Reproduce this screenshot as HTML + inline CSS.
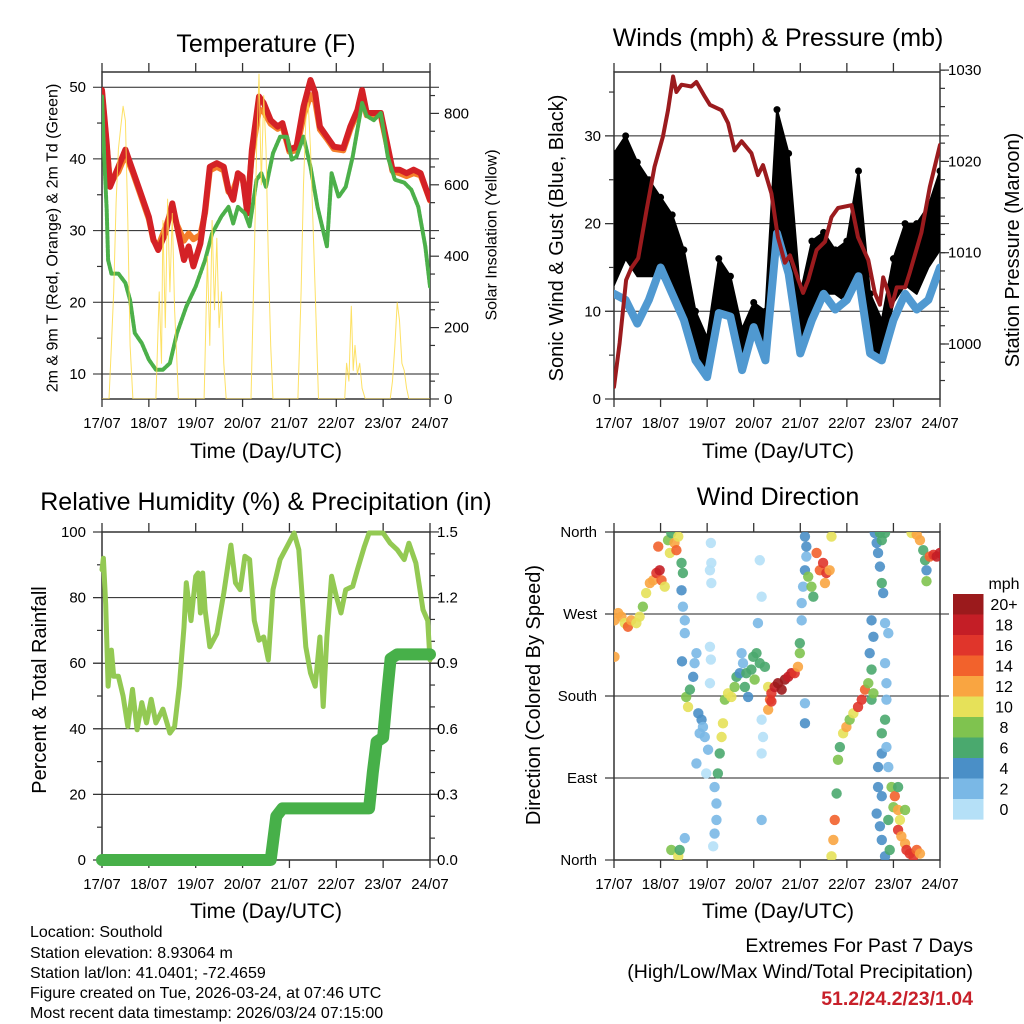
<!DOCTYPE html>
<html><head><meta charset="utf-8"><style>
html,body{margin:0;padding:0;background:#fff;}
svg{display:block;font-family:"Liberation Sans",Arial,sans-serif;}
</style></head><body>
<svg id="fig" width="1024" height="1024" viewBox="0 0 1024 1024" xmlns="http://www.w3.org/2000/svg">
<rect x="0" y="0" width="1024" height="1024" fill="#fff"/>
<g id="layer"></g>
<text x="266" y="52" font-size="25" text-anchor="middle">Temperature (F)</text>
<text x="778" y="46" font-size="25" text-anchor="middle">Winds (mph) &amp; Pressure (mb)</text>
<text x="266" y="510" font-size="25" text-anchor="middle">Relative Humidity (%) &amp; Precipitation (in)</text>
<text x="778" y="505" font-size="25" text-anchor="middle">Wind Direction</text>
<text x="266" y="458" font-size="21" text-anchor="middle">Time (Day/UTC)</text>
<text x="778" y="458" font-size="21" text-anchor="middle">Time (Day/UTC)</text>
<text x="266" y="918" font-size="21" text-anchor="middle">Time (Day/UTC)</text>
<text x="778" y="918" font-size="21" text-anchor="middle">Time (Day/UTC)</text>
<text transform="translate(53,238) rotate(-90)" font-size="16" text-anchor="middle" dominant-baseline="central">2m &amp; 9m T (Red, Orange) &amp; 2m Td (Green)</text>
<text transform="translate(492,235) rotate(-90)" font-size="16" text-anchor="middle" dominant-baseline="central">Solar Insolation (Yellow)</text>
<text transform="translate(557,238) rotate(-90)" font-size="20" text-anchor="middle" dominant-baseline="central">Sonic Wind &amp; Gust (Blue, Black)</text>
<text transform="translate(1013,250) rotate(-90)" font-size="20" text-anchor="middle" dominant-baseline="central">Station Pressure (Maroon)</text>
<text transform="translate(40,690) rotate(-90)" font-size="20" text-anchor="middle" dominant-baseline="central">Percent &amp; Total Rainfall</text>
<text transform="translate(534,695) rotate(-90)" font-size="20" text-anchor="middle" dominant-baseline="central">Direction (Colored By Speed)</text>
<g font-size="16">
<text x="30" y="937">Location: Southold</text>
<text x="30" y="958">Station elevation: 8.93064 m</text>
<text x="30" y="978">Station lat/lon: 41.0401; -72.4659</text>
<text x="30" y="998">Figure created on Tue, 2026-03-24, at 07:46 UTC</text>
<text x="30" y="1018">Most recent data timestamp: 2026/03/24 07:15:00</text>
</g>
<g font-size="19.5" text-anchor="end">
<text x="973" y="952">Extremes For Past 7 Days</text>
<text x="973" y="978">(High/Low/Max Wind/Total Precipitation)</text>
<text x="973" y="1005" fill="#c8202a" font-weight="bold">51.2/24.2/23/1.04</text>
</g>
<text x="1004" y="589" font-size="16" text-anchor="middle">mph</text>
</svg>
<script>
const dayLabels = ['17/07','18/07','19/07','20/07','21/07','22/07','23/07','24/07'];
// Temperature (F)
const tTimes = [0,0.1,0.17,0.35,0.5,0.65,0.8,1.0,1.1,1.2,1.35,1.5,1.6,1.75,1.85,1.95,2.1,2.2,2.3,2.45,2.6,2.7,2.8,2.9,3.0,3.1,3.2,3.35,3.45,3.6,3.75,3.85,4.0,4.15,4.3,4.45,4.55,4.65,4.8,4.95,5.15,5.3,5.45,5.55,5.65,5.8,5.95,6.1,6.2,6.35,6.5,6.65,6.8,6.9,7.0];
const tRed = [49.6,42.2,36.1,38.9,41.3,38.5,35.7,31.9,28.7,27.3,29.6,33.8,30.6,25.9,27.8,25,28.2,32.9,38.9,39.4,38.9,35.7,34.3,38,37.5,32.4,41.3,48.7,47.8,45.4,44.5,45,41.3,41.7,47.3,51,49.2,44.5,43.1,41.7,41.5,44.5,46.8,49.6,46.4,46.4,46.4,41.7,38.5,38.5,38,38.5,38,36.1,34.3];
const tOrange = [49.2,41.8,36.8,38.2,40.6,38.2,35.4,31.6,28.6,27.8,30.4,33.2,30.8,28.6,29.6,28.8,29.4,32.5,38.4,38.9,38.4,35.4,35.6,37.6,37.2,33.8,40.6,46.9,46.6,44.9,44.2,44.6,41.0,41.2,46.0,48.9,48.0,44.1,42.8,41.4,41.2,44.1,46.5,48.6,46.1,46.1,46.0,41.4,38.3,38.0,37.6,38.0,37.7,36.0,34.2];
const tdTimes = [0,0.05,0.1,0.13,0.2,0.35,0.5,0.6,0.7,0.85,1.0,1.15,1.3,1.45,1.6,1.8,2.0,2.2,2.35,2.55,2.7,2.8,2.9,3.05,3.15,3.3,3.4,3.5,3.65,3.8,3.95,4.05,4.15,4.3,4.45,4.6,4.8,4.9,5.05,5.2,5.35,5.55,5.65,5.8,5.95,6.1,6.25,6.45,6.6,6.75,6.9,7.0];
const tdVals = [48.7,39.9,32.9,25.9,24,24,22.7,20.3,15.7,14.3,12,10.6,10.6,11.5,15.7,19.4,22.2,25.9,29.6,32,33.3,31,33.3,32.4,30.6,37.1,38,36.1,40.8,43.1,43.1,39.9,40.3,43.1,38.9,33.3,27.8,38,34.7,36.1,40.3,47.8,46,45.4,46.4,40.3,37.1,36.7,35.7,33.3,27.8,22.2];
const solarTimes = [0,0.15,0.2,0.25,0.3,0.35,0.4,0.45,0.5,0.55,0.6,0.66,1.15,1.22,1.27,1.3,1.35,1.4,1.45,1.5,1.55,1.6,1.63,2.18,2.25,2.3,2.35,2.4,2.45,2.5,2.55,2.6,2.65,3.18,3.25,3.3,3.35,3.4,3.45,3.5,3.55,3.6,3.65,4.18,4.25,4.3,4.35,4.4,4.45,4.5,4.55,4.62,5.18,5.22,5.27,5.32,5.36,5.4,5.45,5.5,5.55,5.62,6.15,6.2,6.25,6.3,6.35,6.4,6.45,6.5,6.55,7.0];
const solarVals = [0,0,150,300,550,700,760,820,780,500,150,0,0,300,100,500,200,560,300,520,250,100,0,0,400,150,500,250,450,200,300,100,0,0,400,700,910,600,850,700,400,150,0,0,300,600,780,830,700,500,300,0,0,100,50,260,80,150,70,100,30,0,0,50,150,270,220,100,80,30,0,0];
const tTicks = [10,20,30,40,50];
const solarTicks = [0,200,400,600,800];
// Winds (mph) & Pressure (mb)
const windTimes = [0,0.25,0.5,0.75,1.0,1.25,1.5,1.75,2.0,2.25,2.5,2.75,3.0,3.25,3.5,3.75,4.0,4.25,4.5,4.75,5.0,5.25,5.5,5.75,6.0,6.25,6.5,6.75,7.0];
const windSpeed = [12,11.3,8.6,11.3,15,12,9,4.4,2.5,9.8,9.4,3.3,8.2,4.4,18.9,14.3,5.2,9,12,10.2,11.3,14,5.2,4.4,9,12,10.2,11.3,15];
const gustHigh = [28,30,27,25,23,21,17,10,7,16,14,8,11,10,33,28,12,18,19,17,18,26,12,9,16,20,20,22,26];
const gustLow = [13,16,14,14,14,12,10,5,3,10,9,4,7,6,18,15,5,10,12,12,11,14,5,5,11,13,12,15,17];
const presTimes = [0,0.12,0.26,0.37,0.52,0.7,0.87,1.05,1.16,1.27,1.34,1.45,1.66,1.77,1.95,2.06,2.31,2.45,2.59,2.74,2.95,3.09,3.2,3.38,3.52,3.67,3.78,3.96,4.06,4.17,4.35,4.53,4.67,4.81,5.1,5.24,5.46,5.6,5.71,5.78,5.89,5.96,6.07,6.25,6.35,6.6,6.78,7.0];
const presVals = [995.3,1000.1,1007,1008.3,1009.4,1014.7,1019.4,1022.7,1025.6,1029.3,1027.6,1028.4,1028.2,1028.7,1027.1,1026.2,1025.6,1024.2,1021.2,1022.2,1020.9,1018.5,1019.6,1016.5,1011.7,1008.9,1009.7,1007,1005.6,1007,1010.3,1011.2,1013.9,1014.9,1015.2,1011.7,1009.2,1005.6,1004.3,1007.3,1005.6,1004.1,1006.2,1006.2,1007.8,1012.2,1017.2,1021.8];
const windTicks = [0,10,20,30];
const presTicks = [1000,1010,1020,1030];
// Relative humidity & precipitation
const rhTimes = [0,0.03,0.08,0.13,0.2,0.25,0.35,0.45,0.55,0.65,0.75,0.85,0.95,1.05,1.15,1.3,1.45,1.55,1.65,1.75,1.8,1.9,2.0,2.05,2.1,2.15,2.2,2.3,2.45,2.6,2.75,2.85,2.95,3.05,3.15,3.25,3.35,3.45,3.55,3.65,3.8,3.95,4.1,4.2,4.35,4.45,4.55,4.65,4.72,4.8,4.9,5.0,5.1,5.2,5.35,5.45,5.6,5.7,5.85,6.0,6.15,6.3,6.45,6.55,6.7,6.85,6.95,7.0];
const rhVals = [88.5,92,78,53,64,56,56,50,40.7,52,39.7,48,41.8,49,41.8,46,38.7,40.7,53,71,84.5,73,86.5,87.5,75.3,87.5,76.3,65,69,81.4,96,84.5,82.4,92.6,91.6,73,67,68,61,82.4,91.6,95.6,99.7,94.6,65,57,53,68,46.8,68,86.5,80.4,75.3,82.4,83.4,88.5,95.6,99.7,99.7,99.7,96.6,94.6,91.6,96.6,90.5,76.3,73,61];
const prTimes = [0,3.6,3.66,3.72,3.85,5.7,5.78,5.86,6.0,6.08,6.16,6.3,7.0];
const prVals = [0,0,0.1,0.2,0.236,0.236,0.4,0.54,0.56,0.75,0.92,0.94,0.94];
const rhTicks = [0,20,40,60,80,100];
const prTicks = ['0.0','0.3','0.6','0.9','1.2','1.5'];
// Wind direction (deg) coloured by speed (mph)
const dirDays = [
0.01,0.09,0.16,0.23,0.30,0.37,0.48,0.55,0.01,0.62,0.69,0.77,0.84,0.91,0.98,1.02,1.09,0.95,
1.16,1.2,1.23,1.3,1.34,1.38,1.45,1.48,1.45,1.48,1.52,1.46,1.52,
1.55,1.59,1.63,1.7,1.73,1.77,1.81,1.88,1.91,1.84,1.95,2.02,1.77,1.98,2.06,2.08,2.06,2.06,2.09,2.09,2.08,
2.16,2.2,2.2,2.16,2.13,2.23,2.27,2.31,2.34,2.38,2.45,2.52,2.59,2.63,2.7,2.74,2.77,2.81,2.84,2.88,2.95,2.99,3.02,3.06,3.13,3.24,3.09,3.13,3.17,3.17,3.2,3.17,3.17,1.52,1.23,1.38,1.41,
3.31,3.35,3.38,3.45,3.52,3.6,3.67,3.74,3.81,3.88,3.95,3.99,3.31,3.38,4.1,4.1,3.99,
4.03,4.03,4.06,4.1,4.13,4.17,4.24,4.28,4.35,4.42,4.49,4.56,4.53,4.63,4.67,4.1,4.13,
4.67,4.71,4.74,4.78,4.81,4.85,4.92,4.99,5.06,5.14,5.24,5.32,5.39,5.46,5.53,5.57,
5.53,5.57,5.49,5.53,5.6,5.64,5.67,5.71,5.75,5.78,5.82,5.89,5.82,5.85,5.85,5.82,5.75,5.75,5.67,5.85,5.89,5.67,5.75,5.64,5.71,5.75,5.82,5.92,5.96,6.03,6.0,6.1,6.14,6.1,6.17,6.25,6.28,6.35,6.43,6.5,6.57,5.89,6.1,6.25,
6.39,6.5,6.57,6.64,6.68,6.71,6.71,6.78,6.86,6.93,7.0,5.82,5.71,5.75];
const dirDegs = [
263,271,267,260,256,263,260,267,223,278,293,304,307,315,318,307,300,344,
351,337,359,348,340,355,326,315,296,278,249,218,263,
179,168,187,201,216,227,161,154,146,139,135,121,106,95,234,220,194,318,304,326,348,
80,62,44,29,15,95,117,135,150,176,183,179,190,201,205,227,216,190,205,179,209,223,198,227,216,212,260,329,289,154,135,117,44,24,11,4,11,
190,176,183,190,194,187,198,201,205,205,212,227,165,174,172,150,238,
263,282,300,318,333,311,300,289,337,318,326,315,304,318,355,355,344,
4,22,44,73,110,124,139,146,154,161,168,176,187,194,176,183,
263,245,227,209,359,348,337,322,304,293,260,249,216,194,176,154,139,117,102,124,102,80,70,51,37,22,4,11,80,70,58,55,44,33,26,18,11,7,4,11,7,44,80,55,
359,357,351,340,329,318,306,333,335,333,337,359,359,351];
const dirSpeeds = [
12,13,12,11,14,12,11,10,12,9,11,13,13,17,19,15,10,15,
9,10,7,13,15,10,6,6,4,3,3,4,3,
9,10,7,4,2,2,4,4,3,2,2,2,2,1,1,1,1,1,1,1,1,
3,2,2,2,1,7,7,11,10,9,10,10,8,6,5,3,3,6,6,5,7,6,8,7,7,6,2,1,1,1,1,1,3,3,8,10,6,
11,14,17,19,21,21,21,19,18,17,12,8,12,16,3,4,7,
2,3,2,5,3,8,9,6,15,14,16,16,12,12,10,4,4,
11,13,14,6,8,6,10,12,8,11,16,16,15,9,7,9,
4,4,4,6,4,4,4,4,6,4,2,2,2,2,2,6,6,4,4,2,2,4,4,4,4,4,4,6,8,14,8,13,11,16,12,13,16,17,16,15,12,6,7,8,
11,12,12,7,6,4,8,15,17,18,19,6,6,6];
const dirTicks = ['North','West','South','East','North'];
const cbarLabels = ['20+','18','16','14','12','10','8','6','4','2','0'];
const cbarColors = ['#9b1a1c','#c41e26','#e0352b','#f2622c','#f9a541','#e6e159','#7fc34f','#4aa96e','#4a8fc7','#7ab8e6','#b5e0f7'];

const NS='http://www.w3.org/2000/svg';
const layer=document.getElementById('layer');
function mk(tag,attrs,parent){const e=document.createElementNS(NS,tag);for(const k in attrs)e.setAttribute(k,attrs[k]);(parent||layer).appendChild(e);return e;}
const P1={x0:102,x1:430,y0:72,y1:399},P2={x0:614,x1:940,y0:72,y1:399},P3={x0:102,x1:430,y0:532,y1:860},P4={x0:614,x1:940,y0:532,y1:860};
function xs(P){return d=>P.x0+(P.x1-P.x0)*d/7;}
const yT=v=>374-(v-10)*7.17, yS=v=>399-v*0.357;
const yW=v=>399-v*8.77, yP=v=>344-(v-1000)*9.13;
const yRH=v=>860-v*3.28, yPR=v=>860-v*218.7;
const yD=v=>860-v*0.9111;

function frame(P,name){
  const g=mk('g',{});
  
  
  const x=xs(P);
  for(let i=0;i<dayLabels.length;i++){
    const t1=mk('line',{x1:x(i),x2:x(i),y1:P.y0-9,y2:P.y0,stroke:'#333','stroke-width':1.3},g);
    
    
    const t2=mk('line',{x1:x(i),x2:x(i),y1:P.y1,y2:P.y1+8,stroke:'#333','stroke-width':1.3},g);
    
    
    const lb=mk('text',{x:x(i),y:P.y1+29,'font-size':15,'text-anchor':'middle'},g);
    lb.textContent=dayLabels[i];
    
    
  }
  return g;
}
function box(P,g){const r=mk('rect',{x:P.x0,y:P.y0,width:P.x1-P.x0,height:P.y1-P.y0,fill:'none',stroke:'#333','stroke-width':1.5},g);
  
  }
function grid(P,y,g){const l=mk('line',{x1:P.x0-9,x2:P.x1+9,y1:y,y2:y,stroke:'#222','stroke-width':1},g);
  
  }
function tick(x,y,len,g){const l=mk('line',{x1:x,x2:x+len,y1:y,y2:y,stroke:'#333','stroke-width':1.2},g);
  
  }
function label(x,y,txt,anchor,g){const t=mk('text',{x:x,y:y+5,'font-size':15,'text-anchor':anchor},g);t.textContent=txt;
  
  }
function line(ts,vs,P,yf,attrs,name){
  const x=xs(P);const pts=ts.map((t,i)=>x(t).toFixed(1)+','+yf(vs[i]).toFixed(1)).join(' ');
  const a=Object.assign({points:pts,fill:'none','stroke-linejoin':'round','stroke-linecap':'round'},attrs);
  const p=mk('polyline',a);
  
  
  return p;}
function clip(P,id){const c=mk('clipPath',{id:id});mk('rect',{x:P.x0,y:P.y0,width:P.x1-P.x0,height:P.y1-P.y0},c);}

// Panel 1
let g=frame(P1,'temperature');
tTicks.forEach(v=>{grid(P1,yT(v),g);label(86,yT(v),String(v),'end',g);});
[15,25,35,45].forEach(v=>tick(P1.x0-5,yT(v),5,g));
solarTicks.forEach(v=>{tick(P1.x1,yS(v),9,g);label(444,yS(v),String(v),'start',g);});
for(let v=50;v<=900;v+=100)tick(P1.x1,yS(v),5,g);
clip(P1,'c1');
line(tTimes,tOrange,P1,yT,{stroke:'#f47f2a','stroke-width':6,'clip-path':'url(#c1)'},'temperature-9m-line');
line(tTimes,tRed,P1,yT,{stroke:'#d42126','stroke-width':6,'clip-path':'url(#c1)'},'temperature-2m-line');
line(tdTimes,tdVals,P1,yT,{stroke:'#4cb04a','stroke-width':4,'stroke-dasharray':'3 1.5','clip-path':'url(#c1)'},'dewpoint-line');
line(solarTimes,solarVals,P1,yS,{stroke:'#fddc4a','stroke-width':1,opacity:0.85,'clip-path':'url(#c1)'},'solar-insolation-line');
box(P1,g);

// Panel 2
g=frame(P2,'winds');
windTicks.forEach(v=>{if(v>0)grid(P2,yW(v),g);tick(P2.x0-9,yW(v),9,g);label(601,yW(v),String(v),'end',g);});
[5,15,25,35].forEach(v=>tick(P2.x0-5,yW(v),5,g));
presTicks.forEach(v=>{tick(P2.x1,yP(v),9,g);label(948,yP(v),String(v),'start',g);});
for(let v=996;v<=1030;v+=2)tick(P2.x1,yP(v),5,g);
clip(P2,'c2');
{const x=xs(P2);
 const up=windTimes.map((t,i)=>x(t).toFixed(1)+','+yW(gustHigh[i]).toFixed(1));
 const dn=windTimes.map((t,i)=>x(t).toFixed(1)+','+yW(gustLow[i]).toFixed(1)).reverse();
 const gp=mk('polygon',{points:up.concat(dn).join(' '),fill:'#000',stroke:'#000','stroke-width':2,'stroke-linejoin':'round','clip-path':'url(#c2)'});
 
 
 windTimes.forEach((t,i)=>{const c=mk('circle',{cx:x(t),cy:yW(gustHigh[i]),r:3.5,fill:'#000','clip-path':'url(#c2)'});
   
   });
}
line(windTimes,windSpeed,P2,yW,{stroke:'#5099d1','stroke-width':8,'clip-path':'url(#c2)'},'wind-speed-line');
line(presTimes,presVals,P2,yP,{stroke:'#9b1b1e','stroke-width':4,'clip-path':'url(#c2)'},'pressure-line');
box(P2,g);

// Panel 3
g=frame(P3,'humidity');
rhTicks.forEach(v=>{if(v>0&&v<100)grid(P3,yRH(v),g);tick(P3.x0-9,yRH(v),9,g);label(86,yRH(v),String(v),'end',g);});
for(let v=10;v<100;v+=20)tick(P3.x0-5,yRH(v),5,g);
prTicks.forEach(s=>{const v=parseFloat(s);tick(P3.x1,yPR(v),9,g);label(437,yPR(v),s,'start',g);});
for(let v=0.1;v<1.5;v+=0.1)tick(P3.x1,yPR(v),5,g);
line(rhTimes,rhVals,P3,yRH,{stroke:'#93c953','stroke-width':5},'humidity-line');
line(prTimes,prVals,P3,yPR,{stroke:'#47b049','stroke-width':12},'precipitation-line');
box(P3,g);

// Panel 4
g=frame(P4,'direction');
dirTicks.forEach((s,i)=>{const v=360-i*90;if(i>0&&i<4)grid(P4,yD(v),g);tick(P4.x0-9,yD(v),9,g);label(597,yD(v),s,'end',g);});
clip(P4,'c4');
function spdColor(s){let k=Math.min(10,Math.floor(s/2));return cbarColors[10-k];}
{const x=xs(P4);
 dirDays.forEach((d,i)=>{const c=mk('circle',{cx:x(d),cy:yD(dirDegs[i]),r:5.2,fill:spdColor(dirSpeeds[i]),opacity:0.9,'clip-path':'url(#c4)'});
   
   });}
box(P4,g);

// Colorbar
cbarColors.forEach((c,i)=>{const r=mk('rect',{x:953,y:594+i*20.5,width:30.5,height:20.6,fill:c});
  
  
  const t=mk('text',{x:1004,y:594+i*20.5+16,'font-size':16,'text-anchor':'middle'});t.textContent=cbarLabels[i];
  
  });
</script>
</body></html>
